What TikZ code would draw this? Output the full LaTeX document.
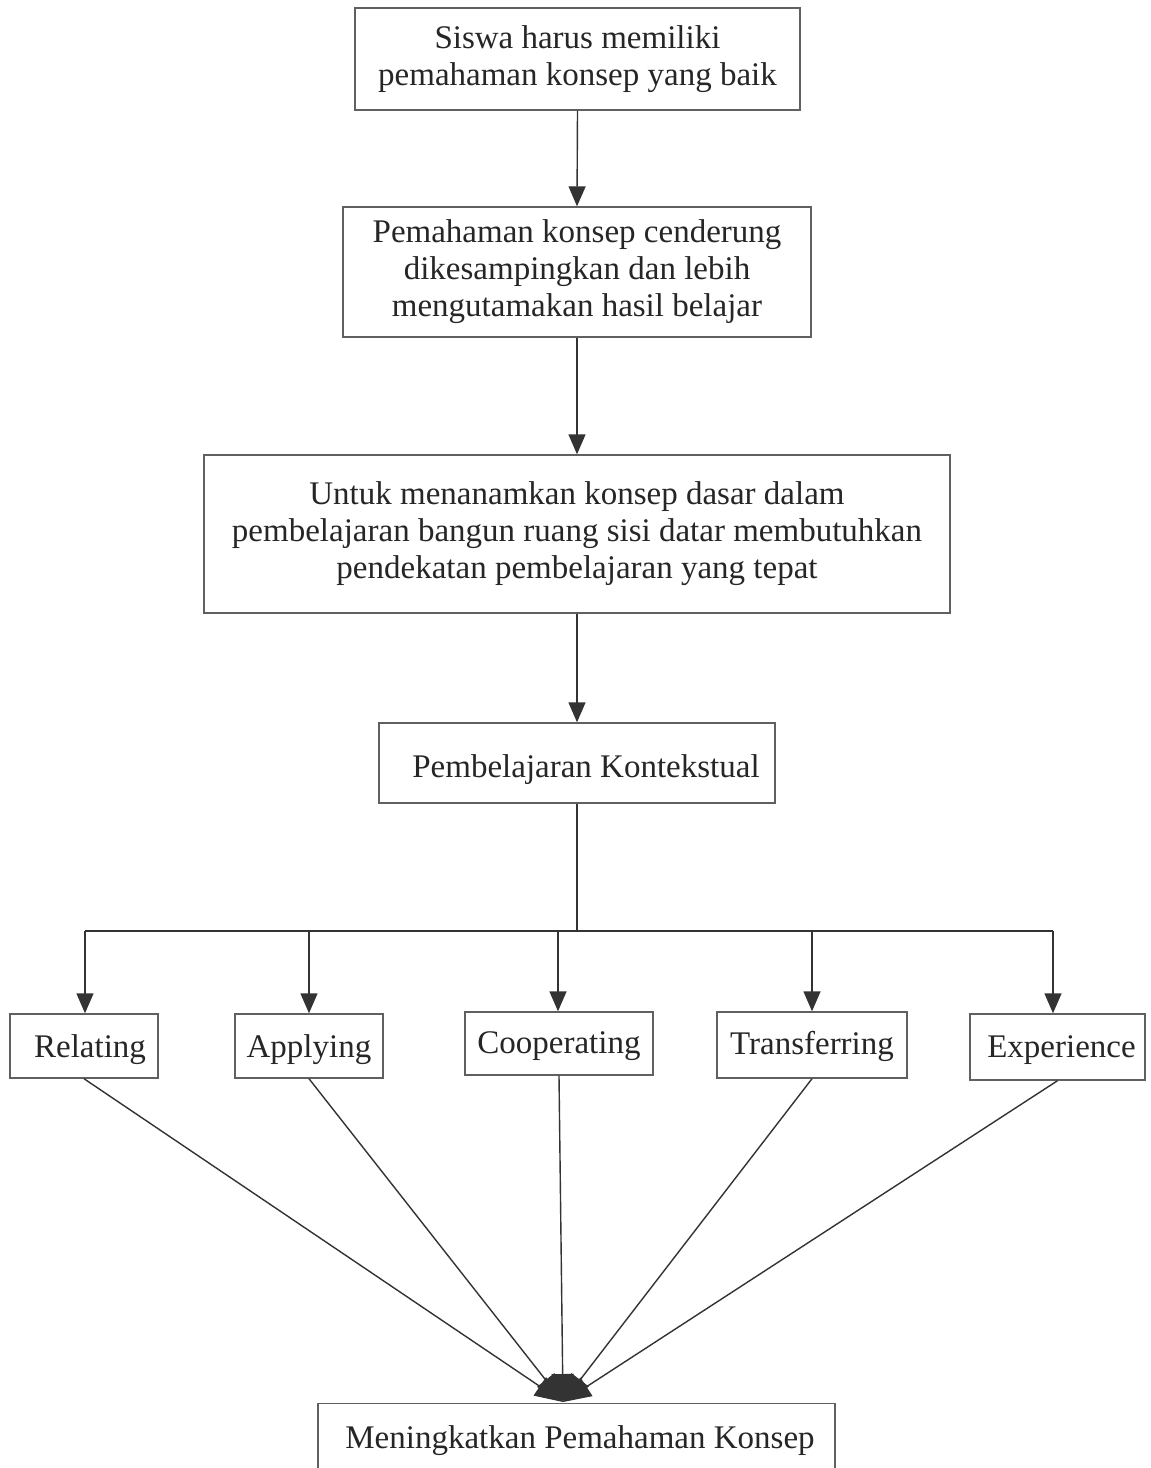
\documentclass[tikz,border=0pt]{standalone}
\usepackage{fontspec}
\setmainfont{Liberation Serif}
\usetikzlibrary{arrows.meta}
\definecolor{boxline}{HTML}{606060}
\definecolor{arrline}{HTML}{333333}
\definecolor{txt}{HTML}{262626}
\newcommand{\lowr}[2]{\raisebox{-#1}[\height][\depth]{#2}}
\begin{document}
\begin{tikzpicture}[x=0.5pt,y=-0.5pt,
  box/.style={draw=boxline,line width=0.7pt,rectangle,inner sep=0pt,align=center,
    text=txt,font=\fontsize{16.5}{18.5}\selectfont},
  conn/.style={draw=arrline,line width=0.7pt},
  arr/.style={conn,-{Triangle[length=10pt,width=8.5pt]}},
  bigarr/.style={conn,-{Triangle[length=14pt,width=11pt]}}]
\useasboundingbox (0,0) rectangle (1151,1468);
\fill[white] (0,0) rectangle (1151,1468);
\node[box,minimum width=222.5pt,minimum height=51pt] (b1) at (577.5,59)
  {Siswa harus memiliki\\pemahaman konsep yang baik};
\node[box,minimum width=234pt,minimum height=65pt] (b2) at (577,272)
  {Pemahaman konsep cenderung\\dikesampingkan dan lebih\\mengutamakan hasil belajar};
\node[box,minimum width=373pt,minimum height=79pt] (b3) at (577,534)
  {Untuk menanamkan konsep dasar dalam\\pembelajaran bangun ruang sisi datar membutuhkan\\pendekatan pembelajaran yang tepat};
\node[box,minimum width=198pt,minimum height=40pt] (b4) at (577,763)
  {\lowr{3.5pt}{\hspace*{9pt}Pembelajaran Kontekstual}};
\coordinate (j) at (577,931);
\coordinate (jl) at (85,931);
\coordinate (jr) at (1053,931);
\node[box,minimum width=74pt,minimum height=32pt] (r1) at (84,1046) {\lowr{2pt}{\hspace*{6pt}Relating}};
\node[box,minimum width=74pt,minimum height=32pt] (r2) at (309,1046) {\lowr{2pt}{Applying}};
\node[box,minimum width=94pt,minimum height=31.5pt] (r3) at (559,1043.5) {\lowr{1.5pt}{Cooperating}};
\node[box,minimum width=95pt,minimum height=33pt] (r4) at (812,1045) {\lowr{0.5pt}{Transferring}};
\node[box,minimum width=87.5pt,minimum height=33pt] (r5) at (1057.5,1047) {\lowr{1.5pt}{\hspace*{4pt}Experience}};
\node[box,minimum width=258.5pt,minimum height=60pt,anchor=north] (fin) at (576.5,1403) {};
\node[text=txt,font=\fontsize{16.5}{18.5}\selectfont] (fint) at (580,1441) {Meningkatkan Pemahaman Konsep};
\coordinate (tip) at (563,1402);
\draw[arr] (b1.south) -- (b2.north);
\draw[arr] (b2.south) -- (b3.north);
\draw[arr] (b3.south) -- (b4.north);
\draw[conn] (b4.south) -- (j);
\draw[conn] (jl) -- (jr);
\draw[arr] (jl) -- (r1.north -| jl);
\draw[arr] (309,931) -- (r2.north);
\draw[arr] (558,931) -- (r3.north -| 558,931);
\draw[arr] (812,931) -- (r4.north);
\draw[arr] (jr) -- (r5.north -| jr);
\draw[bigarr] (r1.south) -- (tip);
\draw[bigarr] (r2.south) -- (tip);
\draw[bigarr] (r3.south) -- (tip);
\draw[bigarr] (r4.south) -- (tip);
\draw[bigarr] (r5.south) -- (tip);
\end{tikzpicture}
\end{document}
